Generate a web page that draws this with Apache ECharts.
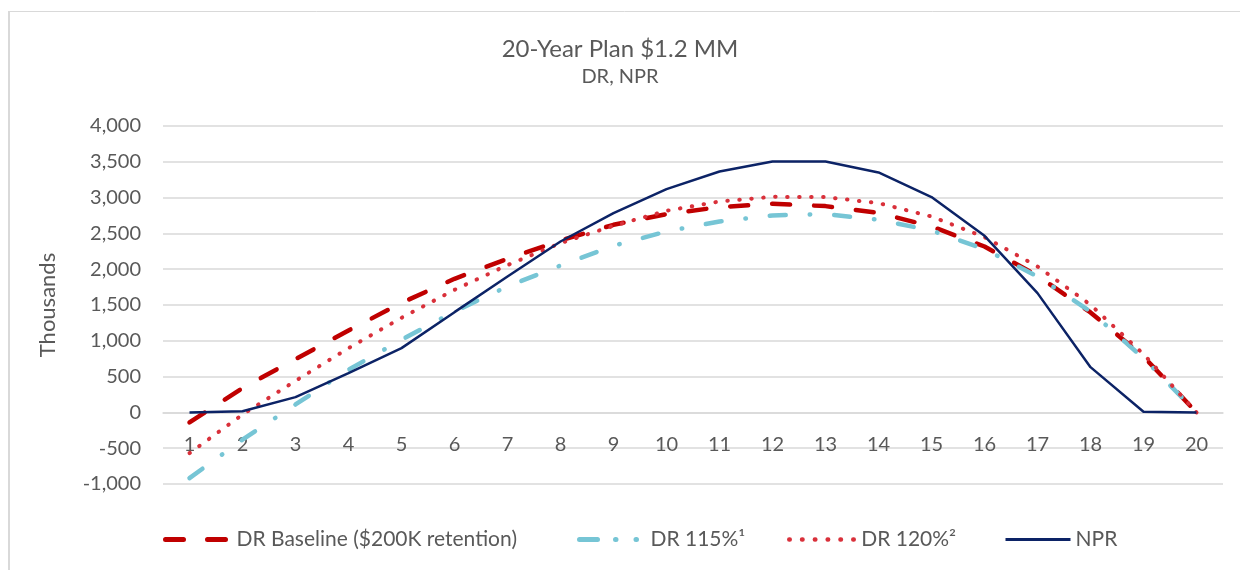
<!DOCTYPE html>
<html>
<head>
<meta charset="utf-8">
<script src="https://cdn.jsdelivr.net/npm/echarts@6/dist/echarts.min.js"></script>
<style>html,body{margin:0;padding:0;background:#fff;}#c{width:1240px;height:570px;}</style>
</head>
<body>
<div id="c"></div>
<script>
const years = ['1','2','3','4','5','6','7','8','9','10','11','12','13','14','15','16','17','18','19','20'];
const baseline = [-140, 340, 744, 1144, 1530, 1866, 2145, 2401, 2620, 2769, 2867, 2913, 2881, 2788, 2597, 2317, 1908, 1396, 781, 0];
const dr115 = [-918, -380, 111, 595, 1014, 1409, 1759, 2052, 2327, 2527, 2667, 2751, 2771, 2690, 2541, 2280, 1898, 1409, 758, 0];
const dr120 = [-569, -30, 441, 897, 1321, 1712, 2057, 2364, 2606, 2816, 2946, 3011, 3007, 2923, 2736, 2448, 2038, 1503, 814, 0];
const npr = [0, 15, 213, 549, 898, 1400, 1898, 2387, 2783, 3118, 3365, 3505, 3505, 3351, 3007, 2466, 1666, 632, 10, 0];
const seriesNames = ['DR Baseline ($200K retention)', 'DR 115%\u00B9', 'DR 120%\u00B2', 'NPR'];

const FONT = 'Lato';
const TXT = '#595959';
const Y_MIN = -1000, Y_MAX = 4000;
const GRID_TOP = 126, GRID_BOTTOM = 86, H = 570;
const plotH = H - GRID_TOP - GRID_BOTTOM;
const zeroOffset = -plotH * (0 - Y_MIN) / (Y_MAX - Y_MIN);

function legendItem(name, left, width, pad, lineStyle) {
  return {
    data: [name], left: left, top: 524,
    itemWidth: width, itemHeight: 14, itemGap: 0,
    itemStyle: {color: 'rgba(0,0,0,0)', borderColor: 'rgba(0,0,0,0)', borderWidth: 0},
    lineStyle: lineStyle,
    textStyle: {fontFamily: FONT, fontSize: 21, color: TXT, padding: [0, 0, 0, pad]}
  };
}

const chart = echarts.init(document.getElementById('c'), null, {renderer: 'canvas'});
chart.setOption({
  animation: false,
  backgroundColor: '#fff',
  textStyle: {fontFamily: FONT, color: TXT},
  title: {
    text: '20-Year Plan $1.2 MM',
    subtext: 'DR, NPR',
    left: 'center',
    top: 32,
    itemGap: 6,
    textStyle: {fontFamily: FONT, fontSize: 24, fontWeight: 'normal', color: TXT},
    subtextStyle: {fontFamily: FONT, fontSize: 20, color: TXT}
  },
  graphic: [
    {type: 'line', shape: {x1: 9, y1: 11.5, x2: 1240, y2: 11.5}, style: {stroke: '#D9D9D9', lineWidth: 1}, silent: true},
    {type: 'line', shape: {x1: 9, y1: 11, x2: 9, y2: 570}, style: {stroke: '#D9D9D9', lineWidth: 2}, silent: true}
  ],
  grid: {left: 163, right: 17, top: GRID_TOP, bottom: GRID_BOTTOM, containLabel: false},
  legend: [
    legendItem(seriesNames[0], 158, 64, 2, {width: 5, type: [18, 24], cap: 'round'}),
    legendItem(seriesNames[1], 572, 66, 0, {width: 5, type: [18, 18, 0.5, 20, 0.5, 40], cap: 'round'}),
    legendItem(seriesNames[2], 782, 67, 0, {width: 4.5, type: [0.5, 12.3], cap: 'round'}),
    legendItem(seriesNames[3], 999, 65, 0, {width: 3})
  ],
  xAxis: {
    type: 'category',
    data: years,
    boundaryGap: true,
    offset: zeroOffset,
    axisLine: {show: true, onZero: false, lineStyle: {color: '#D9D9D9', width: 1.5}},
    axisTick: {show: false},
    axisLabel: {margin: 22, fontSize: 20, color: TXT, fontFamily: FONT}
  },
  yAxis: {
    type: 'value',
    min: Y_MIN,
    max: Y_MAX,
    interval: 500,
    name: 'Thousands',
    nameLocation: 'middle',
    nameGap: 104,
    nameRotate: 90,
    nameTextStyle: {fontSize: 22, color: TXT, fontFamily: FONT},
    axisLine: {show: false},
    axisTick: {show: false},
    splitLine: {lineStyle: {color: '#D9D9D9', width: 1.5}},
    axisLabel: {
      margin: 22, fontSize: 20, color: TXT, fontFamily: FONT,
      formatter: v => v.toLocaleString('en-US')
    }
  },
  series: [
    {name: seriesNames[0], type: 'line', data: baseline, symbol: 'none',
     lineStyle: {color: '#C00000', width: 4.5, type: [18, 24], cap: 'round'}, itemStyle: {color: '#C00000'}},
    {name: seriesNames[1], type: 'line', data: dr115, symbol: 'none',
     lineStyle: {color: '#76C5D5', width: 4.5, type: [16, 24, 0.5, 24], cap: 'round'}, itemStyle: {color: '#76C5D5'}},
    {name: seriesNames[2], type: 'line', data: dr120, symbol: 'none',
     lineStyle: {color: '#D9303A', width: 4, type: [0.5, 11.5], cap: 'round'}, itemStyle: {color: '#D9303A'}},
    {name: seriesNames[3], type: 'line', data: npr, symbol: 'none',
     lineStyle: {color: '#0C2366', width: 2.5, type: 'solid'}, itemStyle: {color: '#0C2366'}}
  ]
});
</script>
</body>
</html>
